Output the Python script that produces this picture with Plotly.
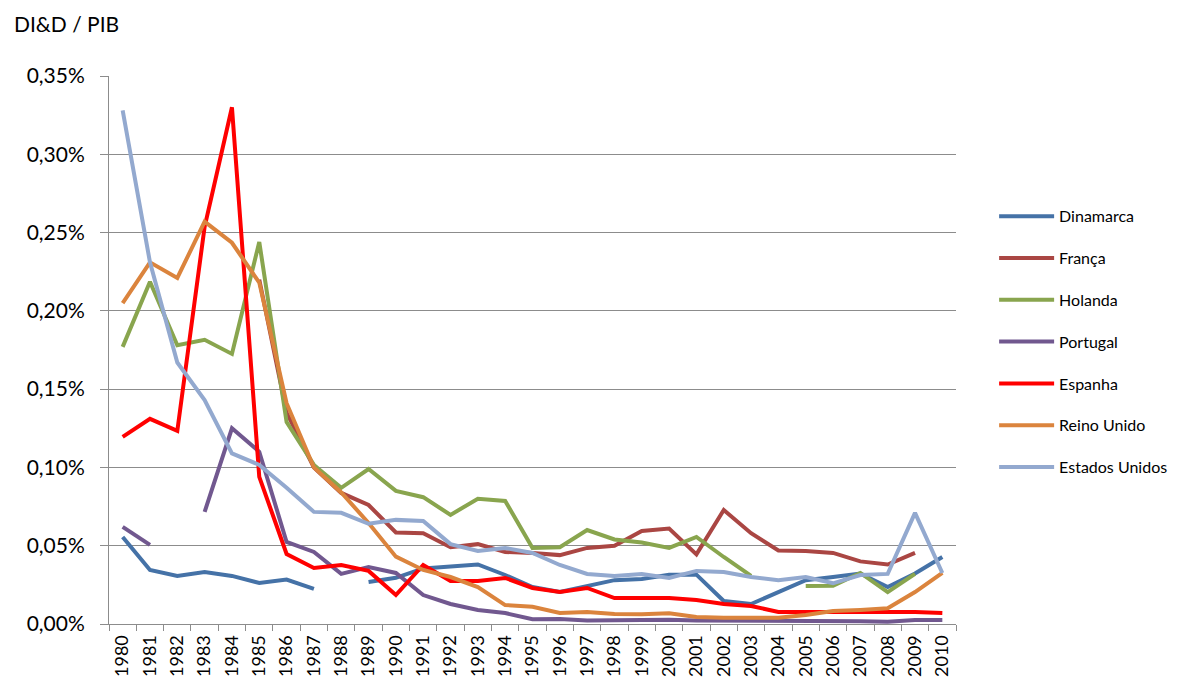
import plotly.graph_objects as go

# Years on the category axis
years = [str(y) for y in range(1980, 2011)]

# DI&D / PIB, in percent (None = no data for that year)
dinamarca = [0.0556, 0.0345, 0.0307, 0.0332, 0.0307, 0.0262, 0.0284, 0.0224, None, 0.0268,
             0.0295, 0.0355, 0.0368, 0.0380, 0.0313, 0.0236, 0.0204, 0.0243, 0.0280, 0.0288,
             0.0315, 0.0315, 0.0147, 0.0128, 0.0204, 0.0280, 0.0300, 0.0322, 0.0236, 0.0322,
             0.0428]
franca = [None, None, None, None, None, 0.2200, 0.1350, 0.1000, 0.0837, 0.0760,
          0.0585, 0.0580, 0.0490, 0.0510, 0.0460, 0.0454, 0.0440, 0.0486, 0.0500, 0.0594,
          0.0610, 0.0445, 0.0728, 0.0580, 0.0470, 0.0466, 0.0454, 0.0400, 0.0380, 0.0454,
          None]
holanda = [0.1770, 0.2186, 0.1780, 0.1815, 0.1725, 0.2440, 0.1290, 0.1016, 0.0870, 0.0990,
           0.0850, 0.0810, 0.0697, 0.0800, 0.0786, 0.0486, 0.0490, 0.0600, 0.0540, 0.0520,
           0.0486, 0.0556, 0.0428, 0.0307, None, 0.0243, 0.0245, 0.0326, 0.0204, 0.0320,
           None]
portugal = [0.0620, 0.0505, None, 0.0716, 0.1250, 0.1100, 0.0524, 0.0460, 0.0320, 0.0364,
            0.0326, 0.0185, 0.0128, 0.0090, 0.0070, 0.0030, 0.0032, 0.0022, 0.0025, 0.0027,
            0.0027, 0.0022, 0.0022, 0.0022, 0.0022, 0.0020, 0.0018, 0.0018, 0.0015, 0.0025,
            0.0025]
espanha = [0.1195, 0.1310, 0.1233, 0.2537, 0.3300, 0.0940, 0.0447, 0.0358, 0.0377, 0.0339,
           0.0185, 0.0377, 0.0275, 0.0275, 0.0294, 0.0230, 0.0204, 0.0230, 0.0166, 0.0166,
           0.0166, 0.0153, 0.0128, 0.0115, 0.0077, 0.0077, 0.0077, 0.0077, 0.0077, 0.0077,
           0.0070]
reino_unido = [0.2050, 0.2310, 0.2210, 0.2570, 0.2435, 0.2180, 0.1410, 0.1000, 0.0840, 0.0645,
               0.0430, 0.0345, 0.0300, 0.0236, 0.0121, 0.0110, 0.0070, 0.0077, 0.0064, 0.0062,
               0.0068, 0.0045, 0.0040, 0.0040, 0.0040, 0.0058, 0.0083, 0.0090, 0.0100, 0.0204,
               0.0326]
estados_unidos = [0.3280, 0.2310, 0.1670, 0.1430, 0.1090, 0.1016, 0.0870, 0.0716, 0.0710, 0.0640,
                  0.0665, 0.0658, 0.0510, 0.0466, 0.0486, 0.0454, 0.0377, 0.0320, 0.0307, 0.0320,
                  0.0294, 0.0339, 0.0332, 0.0300, 0.0280, 0.0300, 0.0260, 0.0313, 0.0320, 0.0710,
                  0.0326]

series = [
    ("Dinamarca", dinamarca, "#4572A7"),
    ("França", franca, "#AA4643"),
    ("Holanda", holanda, "#89A54E"),
    ("Portugal", portugal, "#71588F"),
    ("Espanha", espanha, "#FF0000"),
    ("Reino Unido", reino_unido, "#DB843D"),
    ("Estados Unidos", estados_unidos, "#93A9CF"),
]

FONT = "Lato, 'Liberation Sans', sans-serif"
GRID = "#8C8C8C"

fig = go.Figure()
for name, vals, color in series:
    fig.add_trace(go.Scatter(
        x=years, y=vals, name=name, mode="lines",
        line=dict(color=color, width=4), connectgaps=False,
        legendgroup=name,
    ))

fig.update_layout(
    width=1193, height=679,
    margin=dict(l=109, r=237, t=76, b=55, autoexpand=False),
    paper_bgcolor="white", plot_bgcolor="white",
    separators=", ",
    font=dict(family=FONT, color="#000000"),
    showlegend=True,
    legend=dict(
        x=1.045, y=0.775, xanchor="left", yanchor="top",
        font=dict(family=FONT, size=16, color="#000000"),
        itemwidth=55, tracegroupgap=18, bgcolor="rgba(0,0,0,0)",
    ),
    annotations=[dict(
        text="DI&D / PIB", xref="paper", yref="paper",
        x=-0.1145, y=1.0967, xanchor="left", yanchor="middle",
        showarrow=False, font=dict(family=FONT, size=21, color="#000000"),
    )],
)

fig.update_xaxes(
    type="category", range=[-0.5, 30.5], automargin=False,
    tickangle=-90, tickfont=dict(family=FONT, size=18, color="#000000"),
    showline=True, linecolor=GRID, linewidth=1,
    ticks="outside", tickson="boundaries", ticklen=6, tickcolor=GRID,
    ticklabelstandoff=3,
    showgrid=False, zeroline=False,
)
fig.update_yaxes(
    range=[0, 0.35], dtick=0.05, tickformat=".2f", ticksuffix="%", automargin=False,
    tickfont=dict(family=FONT, size=21, color="#000000"),
    showline=True, linecolor=GRID, linewidth=1,
    ticks="outside", ticklen=8, tickcolor=GRID, ticklabelstandoff=11,
    showgrid=True, gridcolor=GRID, gridwidth=1, zeroline=False,
)

fig.write_html("out.html")
